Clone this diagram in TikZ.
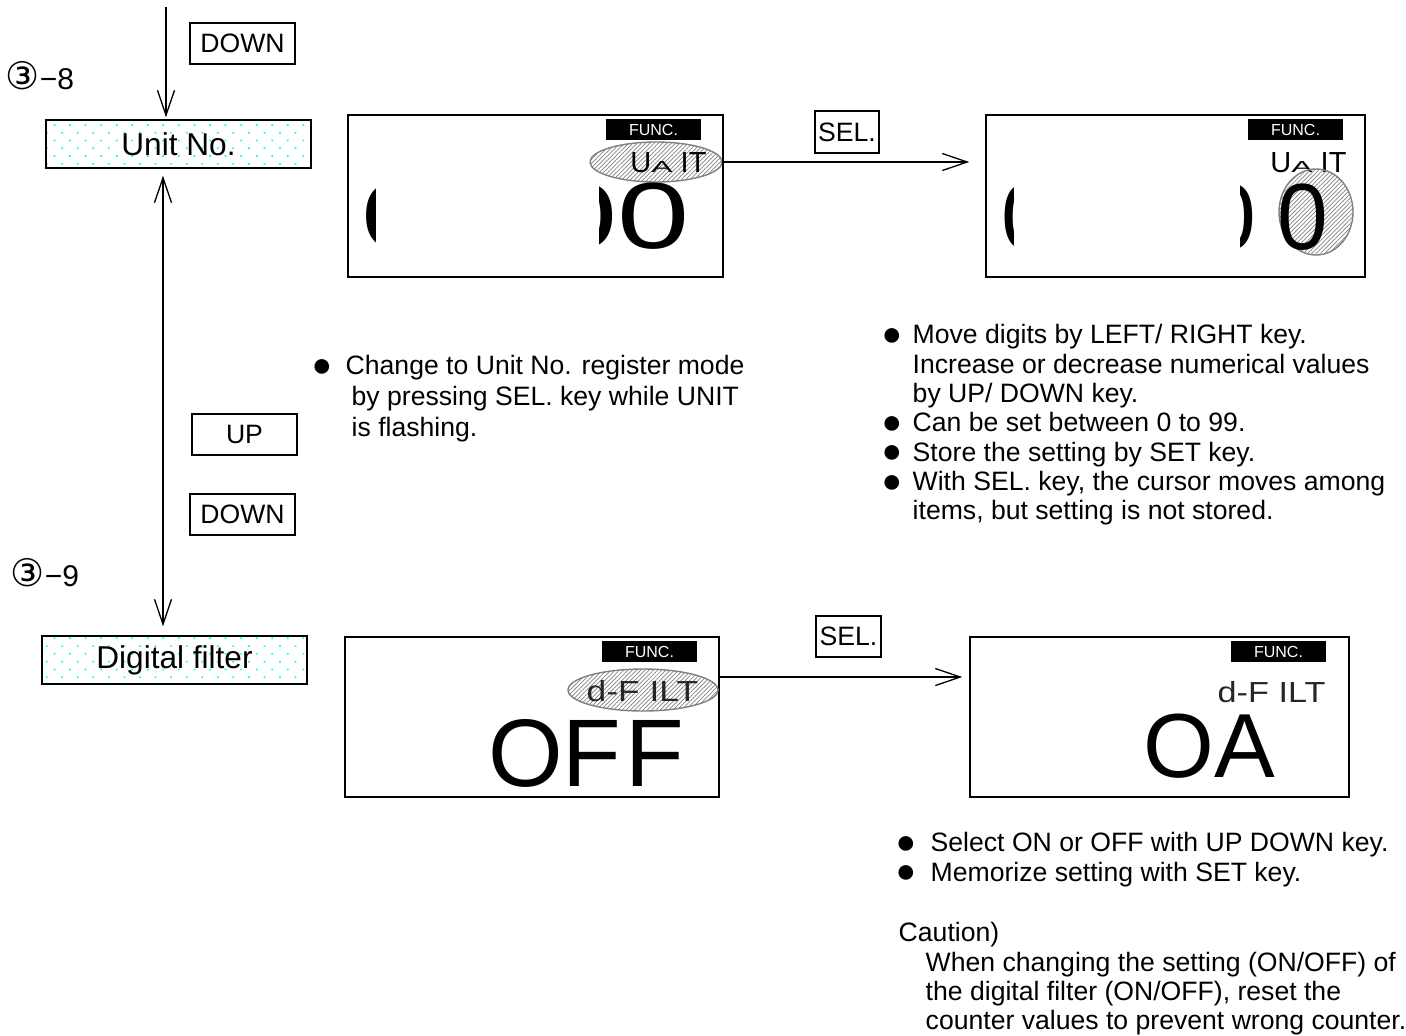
\documentclass[tikz,border=0pt]{standalone}
\usepackage{fontspec}
\setmainfont{Liberation Sans}
\newfontfamily\symfont{DejaVu Sans}
\usetikzlibrary{arrows.meta,positioning,shapes.geometric,patterns.meta}

\newcommand{\bul}[1]{\makebox[#1][l]{\raisebox{-0.06em}{\scalebox{1.28}{●}}}}

\begin{document}
\begin{tikzpicture}[
    x=0.5pt, y=-0.5pt,
    line width=0.7pt,
    menu/.style={draw, pattern={Dots[distance=5.5pt, radius=0.6pt, angle=45]}, pattern color=cyan,
      minimum width=132.5pt, minimum height=24pt, inner sep=0pt, font=\fontsize{15.8}{18}\selectfont},
    keybox/.style={draw, minimum width=52.5pt, minimum height=20.5pt, inner sep=0pt, font=\fontsize{13.3}{16}\selectfont},
    panel/.style={draw, minimum height=81pt, inner sep=0pt},
    funcbar/.style={fill=black, text=white, minimum width=47.5pt, minimum height=10.5pt, inner sep=0pt,
      font=\fontsize{8}{9}\selectfont, anchor=north east},
    flash/.style={ellipse, draw=gray, pattern={Lines[angle=45, distance=1.5pt, line width=0.35pt]}, pattern color=gray, inner sep=0pt},
    lcd/.style={inner sep=0pt, anchor=base west, font=\fontsize{47}{47}\selectfont},
    seg/.style={inner sep=0pt, anchor=base west, text=black!85, font=\fontsize{14.5}{16}\selectfont},
    big/.style={inner sep=0pt, anchor=base west},
    note/.style={inner sep=0pt, anchor=north west, align=left, font=\fontsize{13.3}{14.65}\selectfont},
    arrow/.style={-{Straight Barb[length=12.5pt, width=8.5pt]}, line width=0.65pt},
    arrow2/.style={{Straight Barb[length=12.5pt, width=8.5pt]}-{Straight Barb[length=12.5pt, width=8.5pt]}, line width=0.65pt}
  ]
  \useasboundingbox (0,0) rectangle (1406,1035);

  % menu column
  \node[keybox] (down1) at (242.5,43.5) {DOWN};
  \node[inner sep=0pt, anchor=base west, font=\fontsize{15}{16}\selectfont] (no8) at (5,89) {{\symfont\fontsize{19}{20}\selectfont ③}−8};
  \node[menu] (unit) at (178.5,144) {Unit No.};
  \node[keybox] (up) at (244.5,434.5) {UP};
  \node[keybox] (down2) at (242.5,514.5) {DOWN};
  \node[inner sep=0pt, anchor=base west, font=\fontsize{15}{16}\selectfont] (no9) at (10,586) {{\symfont\fontsize{19}{20}\selectfont ③}−9};
  \node[menu] (dfilt) at (174.5,660) {Digital filter};

  \coordinate (top) at (166,7);
  \coordinate (vx) at (163,0);
  \draw[arrow, shorten >=1pt] (top) -- (top |- unit.north);
  \draw[arrow2, shorten <=3.5pt, shorten >=4.5pt] (unit.south -| vx) -- (dfilt.north -| vx);

  % unit no. display, UNIT flashing
  \node[panel, minimum width=187.5pt] (disp1) at (535.5,196) {};
  \node[funcbar] (func1) at ([xshift=-11pt,yshift=-2pt]disp1.north east) {FUNC.};
  \node[flash, minimum width=66pt, minimum height=20pt] (ell1) at (656,162) {};
  \node[seg, text=black] (name1) at (629.7,172) {U\scalebox{1.1}[0.55]{A} IT};
  \begin{scope}
    \clip (355,170) rectangle (375,260);
    \node[lcd] (d1a) at (360.6,248) {\scalebox{1.38}[1]{0}};
  \end{scope}
  \begin{scope}
    \clip (599,170) rectangle (700,260);
    \node[lcd] (d1b) at (544.6,248) {\scalebox{1.38}[1]{0}};
  \end{scope}
  \node[lcd] (d1c) at (616.6,248) {\scalebox{1.38}[1]{0}};

  % unit no. display, digit flashing
  \node[panel, minimum width=189.5pt] (disp2) at (1175.5,196) {};
  \node[funcbar] (func2) at ([xshift=-11pt,yshift=-2pt]disp2.north east) {FUNC.};
  \node[seg, text=black] (name2) at (1269.7,172) {U\scalebox{1.1}[0.55]{A} IT};
  \node[flash, minimum width=37pt, minimum height=43pt] (ell2) at (1316,212) {};
  \begin{scope}
    \clip (995,170) rectangle (1013,260);
    \node[lcd] (d2a) at (1001,249) {\scalebox{0.97}[1]{0}};
  \end{scope}
  \begin{scope}
    \clip (1240,170) rectangle (1340,260);
    \node[lcd] (d2b) at (1205,249) {\scalebox{0.97}[1]{0}};
  \end{scope}
  \node[lcd] (d2c) at (1277,249) {\scalebox{0.97}[1]{0}};

  \node[keybox, minimum width=32pt, minimum height=21pt] (sel1) at (847,132) {SEL.};
  \draw[arrow, shorten >=8pt] (ell1.east) -- (ell1.east -| disp2.west);

  % digital filter displays
  \node[panel, minimum width=187pt, minimum height=80pt] (disp3) at (532,717) {};
  \node[funcbar] (func3) at ([xshift=-11pt,yshift=-2pt]disp3.north east) {FUNC.};
  \node[flash, minimum width=75pt, minimum height=21pt] (ell3) at (643,690) {};
  \node[seg] (seg3) at (586,701) {\scalebox{1.22}[1]{d-F ILT}};
  \node[big, font=\fontsize{48}{48}\selectfont] (off) at (487.5,786) {OF\kern2ptF};

  \node[panel, minimum width=189.5pt, minimum height=80pt] (disp4) at (1159.5,717) {};
  \node[funcbar] (func4) at ([xshift=-11.5pt,yshift=-2pt]disp4.north east) {FUNC.};
  \node[seg] (seg4) at (1217,702) {\scalebox{1.18}[1]{d-F ILT}};
  \node[big, font=\fontsize{45.5}{46}\selectfont] (on) at (1142.6,777) {OA};

  \node[keybox, minimum width=32.5pt, minimum height=20.5pt] (sel2) at (848.5,636.5) {SEL.};
  \coordinate (a2) at (719,677);
  \draw[arrow, shorten >=3.5pt] (a2) -- (a2 -| disp4.west);

  % notes
  \node[note, font=\fontsize{13.3}{15.5}\selectfont] (note1) at (311,355)
    {\bul{17pt}Change to Unit No. register mode\\
     \hspace*{20pt}by pressing SEL. key while UNIT\\
     \hspace*{20pt}is flashing.};
  \node[note] (note2) at (881,324)
    {\bul{15.5pt}Move digits by LEFT/ RIGHT key.\\
     \hspace*{15.5pt}Increase or decrease numerical values\\
     \hspace*{15.5pt}by UP/ DOWN key.\\
     \bul{15.5pt}Can be set between 0 to 99.\\
     \bul{15.5pt}Store the setting by SET key.\\
     \bul{15.5pt}With SEL. key, the cursor moves among\\
     \hspace*{15.5pt}items, but setting is not stored.};
  \node[note] (note3) at (895,832)
    {\bul{17.5pt}Select ON or OFF with UP DOWN key.\\
     \bul{17.5pt}Memorize setting with SET key.};
  \node[note] (caution) at (898,922)
    {Caution)\\
     \hspace*{13.5pt}When changing the setting (ON/OFF) of\\
     \hspace*{13.5pt}the digital filter (ON/OFF), reset the\\
     \hspace*{13.5pt}counter values to prevent wrong counter.};
\end{tikzpicture}
\end{document}
